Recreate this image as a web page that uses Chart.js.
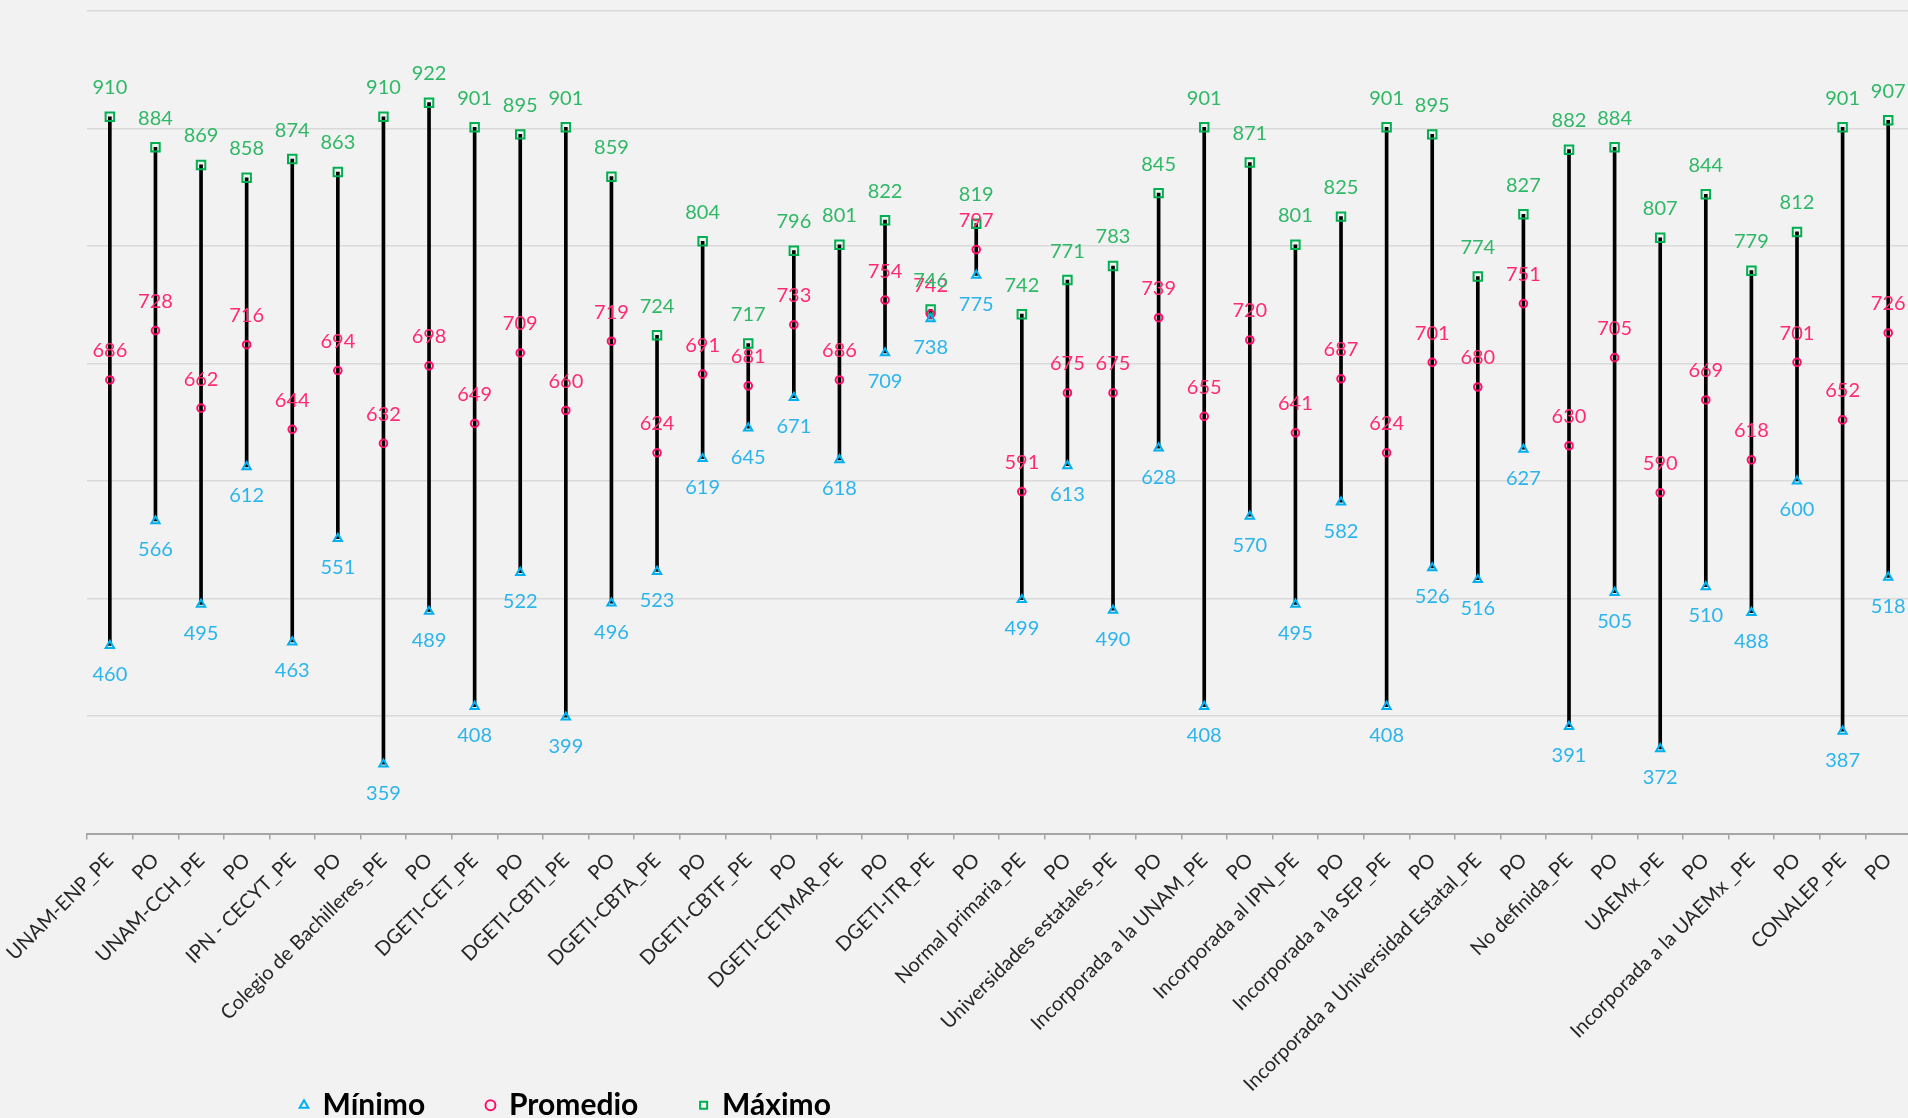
<!DOCTYPE html>
<html>
<head>
<meta charset="utf-8">
<title>Mínimo, promedio y máximo</title>
<script src="https://cdn.jsdelivr.net/npm/chart.js@4.4.0/dist/chart.umd.min.js"></script>
<style>
  html, body { margin: 0; padding: 0; background: #f2f2f2; overflow: hidden; }
  #wrap { width: 1919px; height: 1118px; position: relative; }
</style>
</head>
<body>
<div id="wrap"><canvas id="rangeChart"></canvas></div>
<script>
const categories = [
  "UNAM-ENP_PE", "PO", "UNAM-CCH_PE", "PO", "IPN - CECYT_PE", "PO",
  "Colegio de Bachilleres_PE", "PO", "DGETI-CET_PE", "PO", "DGETI-CBTI_PE", "PO",
  "DGETI-CBTA_PE", "PO", "DGETI-CBTF_PE", "PO", "DGETI-CETMAR_PE", "PO",
  "DGETI-ITR_PE", "PO", "Normal primaria_PE", "PO", "Universidades estatales_PE", "PO",
  "Incorporada a la UNAM_PE", "PO", "Incorporada al IPN_PE", "PO",
  "Incorporada a la SEP_PE", "PO", "Incorporada a Universidad Estatal_PE", "PO",
  "No definida_PE", "PO", "UAEMx_PE", "PO", "Incorporada a la UAEMx _PE", "PO",
  "CONALEP_PE", "PO"
];
const minimo = [460, 566, 495, 612, 463, 551, 359, 489, 408, 522, 399, 496, 523, 619, 645, 671, 618, 709, 738, 775,
                499, 613, 490, 628, 408, 570, 495, 582, 408, 526, 516, 627, 391, 505, 372, 510, 488, 600, 387, 518];
const promedio = [686, 728, 662, 716, 644, 694, 632, 698, 649, 709, 660, 719, 624, 691, 681, 733, 686, 754, 742, 797,
                  591, 675, 675, 739, 655, 720, 641, 687, 624, 701, 680, 751, 630, 705, 590, 669, 618, 701, 652, 726];
const maximo = [910, 884, 869, 858, 874, 863, 910, 922, 901, 895, 901, 859, 724, 804, 717, 796, 801, 822, 746, 819,
                742, 771, 783, 845, 901, 871, 801, 825, 901, 895, 774, 827, 882, 884, 807, 844, 779, 812, 901, 907];
const yMin = 300;
const yMax = 1000;
const yStep = 100;

// numbers above / below each marker
const valueLabels = {
  id: 'valueLabels',
  afterDatasetsDraw(chart) {
    const ctx = chart.ctx;
    ctx.save();
    ctx.font = '20px Lato';
    ctx.textAlign = 'center';
    ctx.textBaseline = 'middle';
    chart.data.datasets.forEach((ds, i) => {
      if (!ds.labelOffset) return;
      const meta = chart.getDatasetMeta(i);
      ctx.fillStyle = ds.labelColor;
      meta.data.forEach((pt, j) => {
        ctx.fillText(ds.data[j], pt.x, pt.y + ds.labelOffset);
      });
    });
    ctx.restore();
  }
};

// legend sits left of centre, near the bottom edge
const legendPlacement = {
  id: 'legendPlacement',
  afterLayout(chart) {
    chart.legend.left = 238.7;
    chart.legend.top = 1028.5;
  }
};

function pointSet(label, data, style, radius, color, textColor, offset) {
  return {
    type: 'line',
    label: label,
    data: data,
    showLine: false,
    pointStyle: style,
    pointRadius: radius,
    pointHoverRadius: radius,
    pointBorderWidth: 2,
    pointBorderColor: color,
    pointBackgroundColor: 'rgba(0,0,0,0)',
    borderColor: color,
    backgroundColor: 'rgba(0,0,0,0)',
    labelColor: textColor,
    labelOffset: offset,
    order: 1
  };
}

const ctx = document.getElementById('rangeChart').getContext('2d');
new Chart(ctx, {
  type: 'bar',
  data: {
    labels: categories,
    datasets: [
      {
        label: 'rango',
        data: categories.map((c, i) => [minimo[i], maximo[i]]),
        backgroundColor: '#000000',
        barThickness: 3,
        order: 2
      },
      pointSet('Mínimo', minimo, 'triangle', 4.8, '#00b0f0', '#2bb5ec', 29),
      pointSet('Promedio', promedio, 'circle', 3.8, '#ff0f6b', '#ff2a74', -29),
      pointSet('Máximo', maximo, 'rect', 6, '#00b050', '#2fb865', -29)
    ]
  },
  options: {
    responsive: true,
    maintainAspectRatio: false,
    animation: false,
    layout: { padding: { left: 87, right: 1, top: 11, bottom: 0 } },
    plugins: {
      tooltip: { enabled: false },
      legend: {
        position: 'bottom',
        align: 'start',
        maxHeight: 1,
        labels: {
          filter: item => item.datasetIndex > 0,
          usePointStyle: true,
          boxWidth: 7,
          boxHeight: 7,
          padding: 61.8,
          color: '#000000',
          font: { family: 'Lato', size: 30, weight: 'bold' }
        }
      }
    },
    scales: {
      x: {
        afterFit: s => { s.height = 283.5; },
        grid: {
          display: true,
          offset: true,
          drawOnChartArea: false,
          drawTicks: true,
          tickLength: 6,
          color: '#a6a6a6',
          lineWidth: 1.5
        },
        border: { display: true, color: '#a6a6a6', width: 2 },
        ticks: {
          autoSkip: false,
          maxRotation: 45,
          minRotation: 45,
          padding: 9,
          color: '#262626',
          font: { family: 'Lato', size: 20 }
        }
      },
      y: {
        min: yMin,
        max: yMax,
        ticks: { display: false, stepSize: yStep },
        grid: { color: '#d9d9d9', lineWidth: 1.5, drawTicks: false },
        border: { display: false }
      }
    }
  },
  plugins: [valueLabels, legendPlacement]
});
</script>
</body>
</html>
